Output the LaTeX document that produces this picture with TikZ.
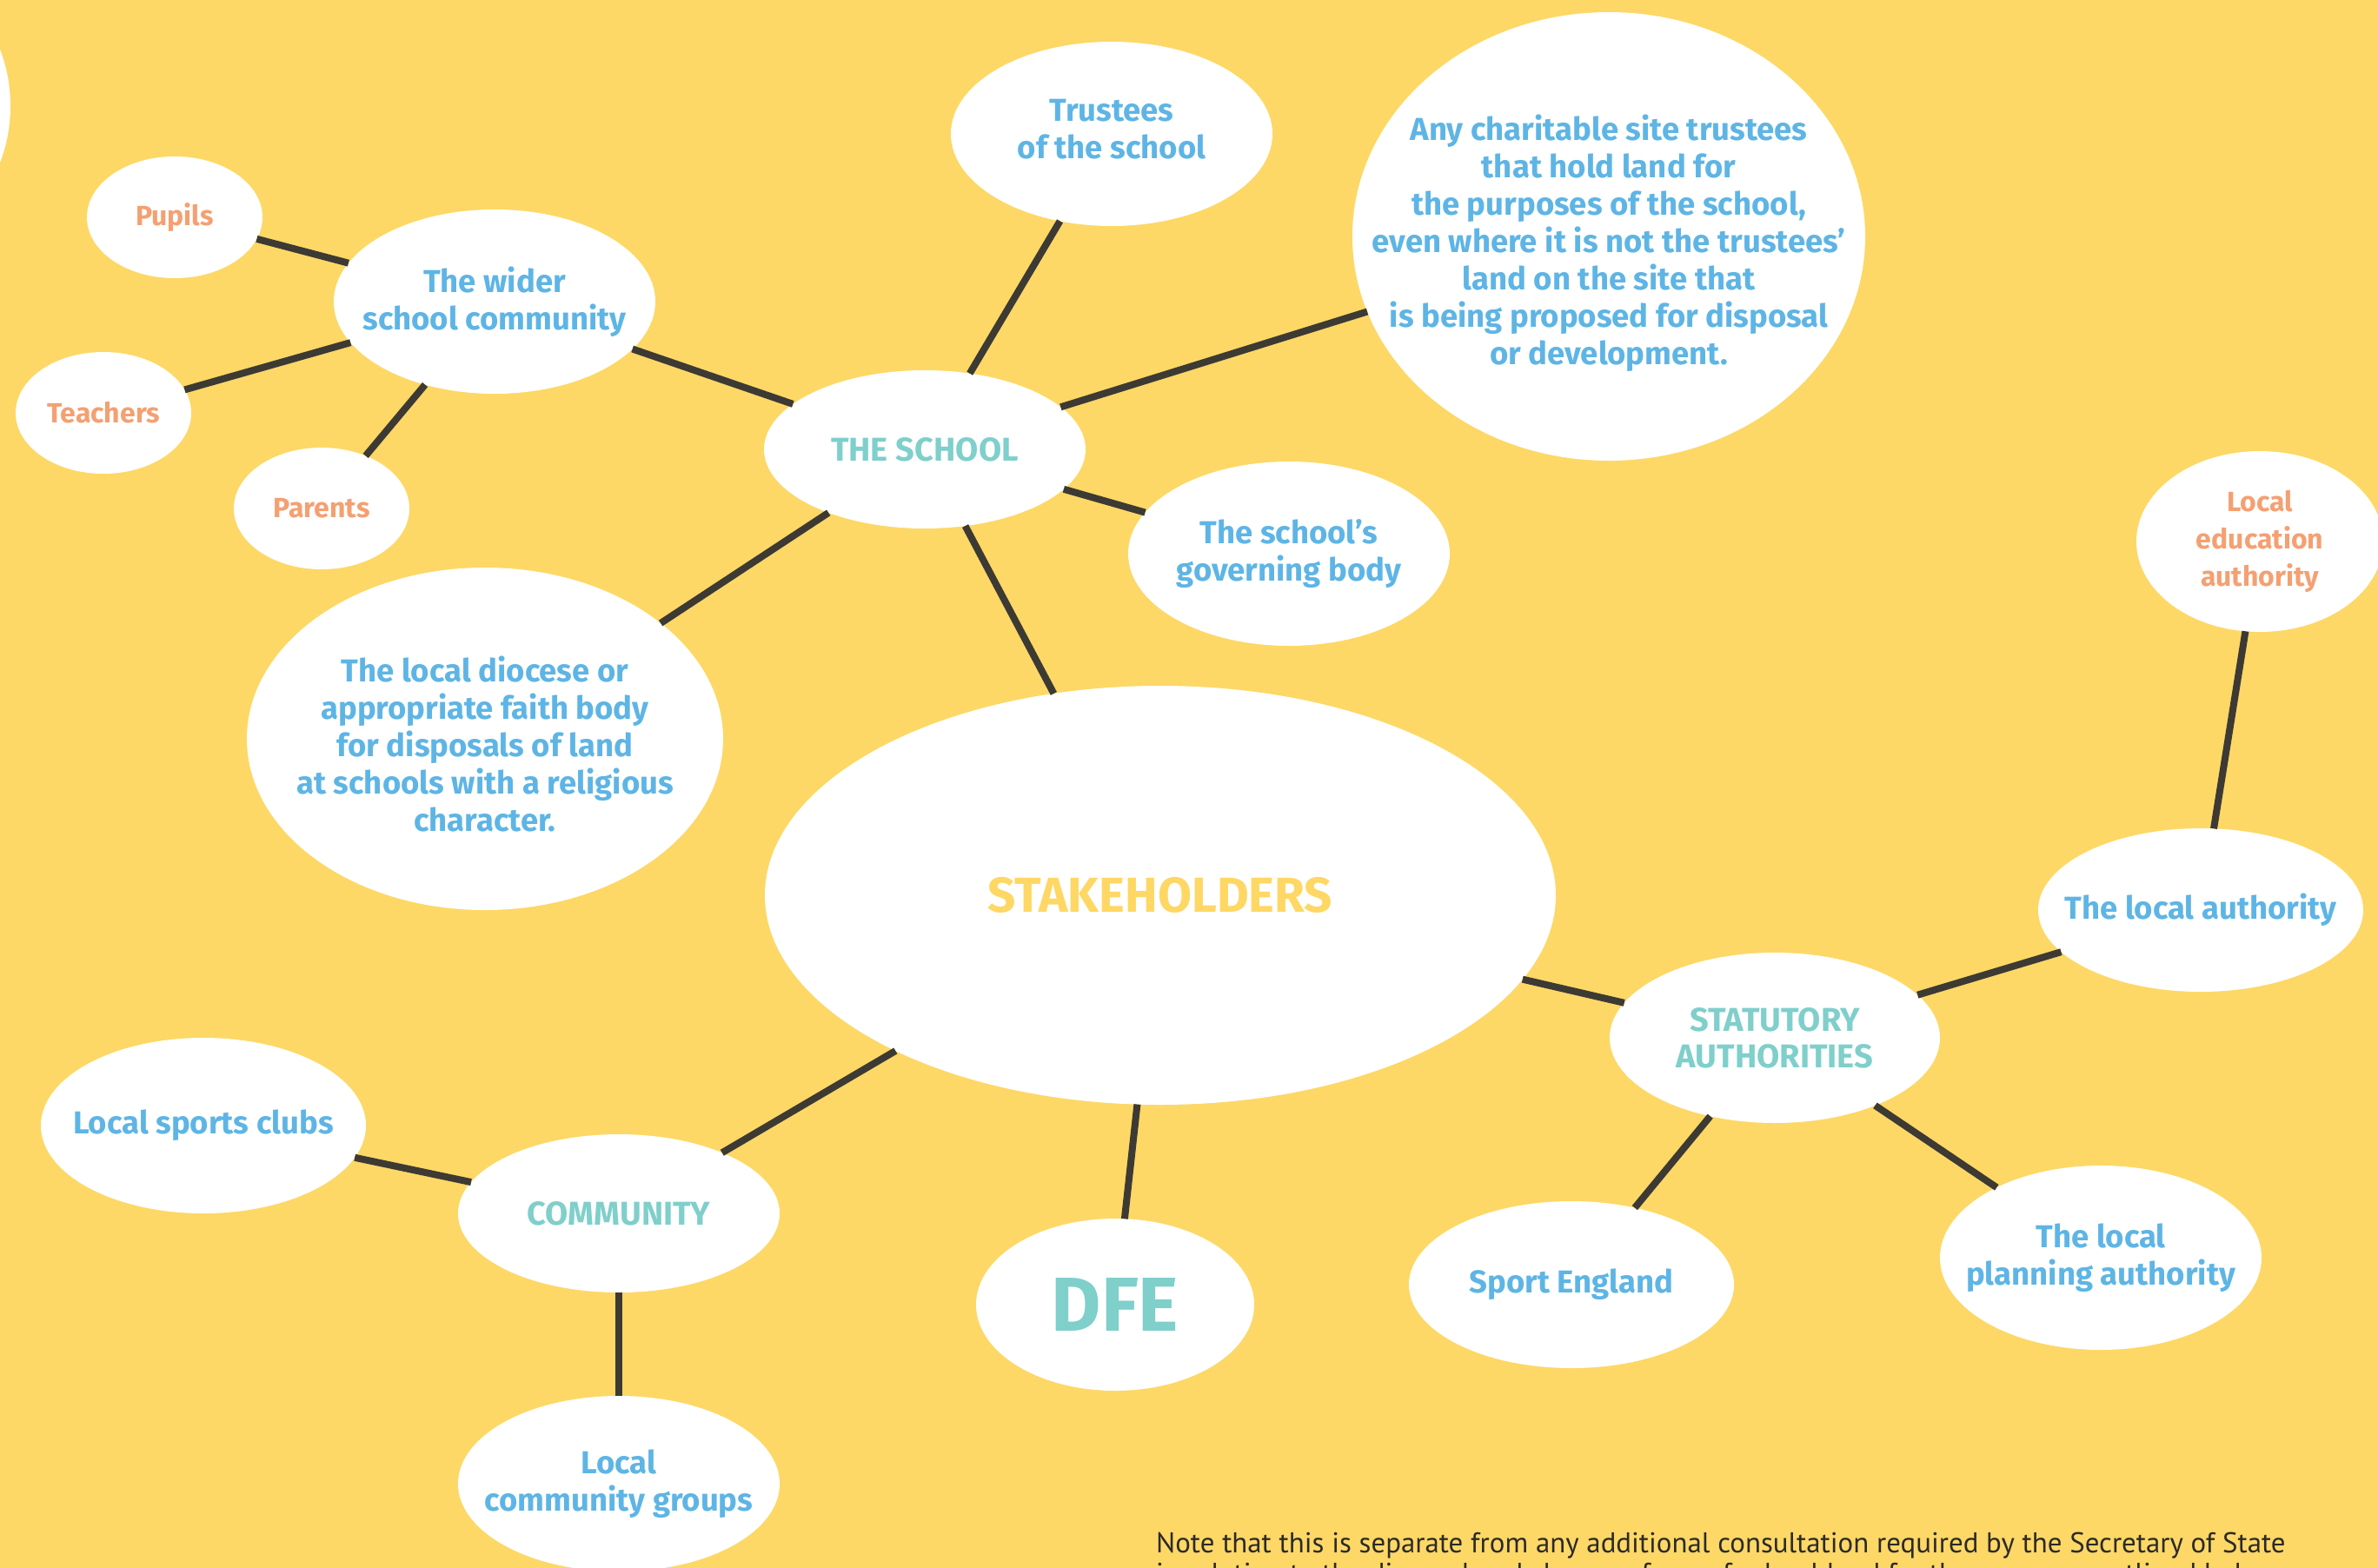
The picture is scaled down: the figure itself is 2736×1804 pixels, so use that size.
\documentclass[tikz,border=0pt]{standalone}
\usepackage{fontspec}
\setmainfont{Fira Sans}
\newfontfamily\notefamily{PT Sans}
\usetikzlibrary{shapes.geometric}

\definecolor{bgyellow}{HTML}{FDD866}
\definecolor{txtblue}{HTML}{5EB5E5}
\definecolor{txtteal}{HTML}{7FCFCB}
\definecolor{txtorange}{HTML}{F4A072}
\definecolor{txtgold}{HTML}{FED764}
\definecolor{linkcol}{HTML}{3D3A34}
\definecolor{notecol}{HTML}{2B2A28}

\newcommand\bluefont{\bfseries\fontsize{36.5}{43}\selectfont}
\newcommand\orangefont{\bfseries\fontsize{32}{43}\selectfont}
\newcommand\tealfont{\bfseries\fontsize{38}{42}\selectfont}
\newcommand\notefont{\notefamily\fontsize{32.9}{35}\selectfont}

\tikzset{
  bubble/.style 2 args={ellipse, fill=white, draw=none, minimum width=#1,
    minimum height=#2, inner sep=0pt, outer sep=0pt},
  bluetxt/.style={text=txtblue, font=\bluefont, align=center},
  orangetxt/.style={text=txtorange, font=\orangefont, align=center},
  tealtxt/.style={text=txtteal, font=\tealfont, align=center},
  link/.style={draw=linkcol, line width=8pt},
}

\begin{document}
\begin{tikzpicture}[x=1pt, y=-1pt]
\useasboundingbox (0,0) rectangle (2736,1804);
\clip (0,0) rectangle (2736,1804);
\fill[bgyellow] (0,0) rectangle (2736,1804);

% bubble cut by the left edge
\node[bubble={264pt}{312pt}] (edgebubble) at (-120,122) {};

% the school and its circle
\node[bubble={202pt}{140pt}, label={[orangetxt]center:Pupils}] (pupils) at (201,250) {};
\node[bubble={202pt}{140pt}, label={[orangetxt]center:Teachers}] (teachers) at (119,475) {};
\node[bubble={202pt}{140pt}, label={[orangetxt]center:Parents}] (parents) at (370,585) {};
\node[bubble={370pt}{212pt}, label={[bluetxt]center:{The wider\\school community}}] (wider) at (569,347) {};
\node[bubble={370pt}{212pt}, label={[bluetxt, yshift=5pt]center:{Trustees\\of the school}}] (trustees) at (1279,154) {};
\node[bubble={590pt}{516pt}, label={[bluetxt, yshift=-8pt]center:{Any charitable site trustees\\that hold land for\\the purposes of the school,\\even where it is not the trustees’\\land on the site that\\is being proposed for disposal\\or development.}}] (charity) at (1851,272) {};
\node[bubble={370pt}{182pt}, label={[tealtxt]center:THE SCHOOL}] (school) at (1064,517) {};
\node[bubble={370pt}{212pt}, label={[bluetxt]center:{The school’s\\governing body}}] (governing) at (1483,637) {};
\node[bubble={548pt}{394pt}, label={[bluetxt, yshift=-6pt]center:{The local diocese or\\appropriate faith body\\for disposals of land\\at schools with a religious\\character.}}] (diocese) at (558,850) {};

% centre
\node[bubble={910pt}{482pt}, label={[text=txtgold, font=\bfseries\fontsize{56.5}{60}\selectfont]center:STAKEHOLDERS}] (stake) at (1335,1030) {};

% statutory authorities
\node[bubble={284pt}{208pt}, label={[orangetxt]center:{Local\\education\\authority}}] (lea) at (2600,623) {};
\node[bubble={374pt}{188pt}, label={[bluetxt]center:The local authority}] (la) at (2532,1047) {};
\node[bubble={380pt}{196pt}, label={[tealtxt]center:{STATUTORY\\AUTHORITIES}}] (statutory) at (2042,1194) {};
\node[bubble={374pt}{192pt}, label={[bluetxt]center:Sport England}] (sport) at (1808,1478) {};
\node[bubble={370pt}{212pt}, label={[bluetxt]center:{The local\\planning authority}}] (planning) at (2417,1447) {};

% department
\node[bubble={320pt}{198pt}, label={[text=txtteal, font=\bfseries\fontsize{88}{96}\selectfont]center:DFE}] (dfe) at (1283,1501) {};

% community
\node[bubble={370pt}{182pt}, label={[tealtxt]center:COMMUNITY}] (community) at (712,1396) {};
\node[bubble={374pt}{202pt}, label={[bluetxt]center:Local sports clubs}] (sports) at (234,1295) {};
\node[bubble={370pt}{202pt}, label={[bluetxt]center:{Local\\community groups}}] (groups) at (712,1707) {};

% connectors
\draw[link] (pupils) -- (wider);
\draw[link] (teachers) -- (wider);
\draw[link] (parents) -- (wider);
\draw[link] (wider) -- (school);
\draw[link] (school) -- (trustees);
\draw[link] (school) -- (charity);
\draw[link] (school) -- (governing);
\draw[link] (school) -- (diocese);
\draw[link] (school) -- (stake);
\draw[link] (stake) -- (statutory);
\draw[link] (statutory) -- (la);
\draw[link] (la) -- (lea);
\draw[link] (statutory) -- (sport);
\draw[link] (statutory) -- (planning);
\draw[link] (stake) -- (dfe);
\draw[link] (stake) -- (community);
\draw[link] (community) -- (sports);
\draw[link] (community) -- (groups);

% footnote, its second line running off the bottom edge
\node[anchor=base west, inner sep=0pt, text=notecol, font=\notefont] (noteA) at (1330,1786)
  {Note that this is separate from any additional consultation required by the Secretary of State};
\node[anchor=base west, inner sep=0pt, text=notecol, font=\notefont] (noteB) at (1330,1821)
  {in relation to the disposal and change of use of school land for the purposes outlined below.};
\end{tikzpicture}
\end{document}
